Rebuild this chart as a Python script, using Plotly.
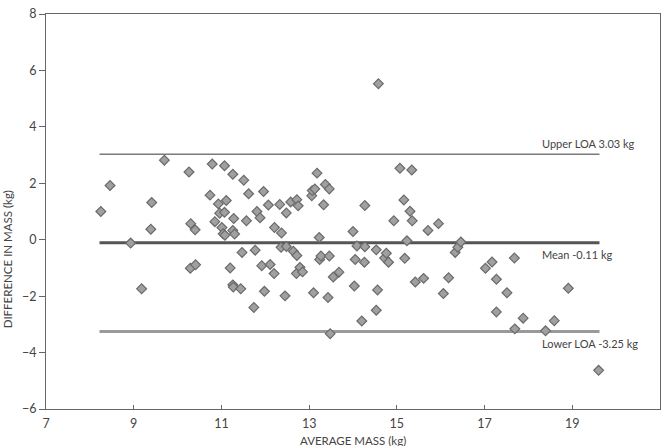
import plotly.graph_objects as go

# Data (Bland-Altman plot)
avg_mass = [8.25, 8.46, 8.93, 9.18, 9.39, 9.41, 9.70, 10.26, 10.29, 10.30,
            10.40, 10.41, 10.74, 10.79, 10.85, 10.93, 10.96, 11.01, 11.04, 11.07,
            11.07, 11.08, 11.11, 11.20, 11.26, 11.26, 11.26, 11.27, 11.28, 11.30,
            11.44, 11.47, 11.51, 11.57, 11.62, 11.74, 11.77, 11.81, 11.88, 11.92,
            11.96, 11.98, 12.07, 12.11, 12.20, 12.21, 12.33, 12.36, 12.37, 12.45,
            12.48, 12.48, 12.58, 12.64, 12.71, 12.72, 12.72, 12.75, 12.79, 12.85,
            13.06, 13.07, 13.10, 13.13, 13.18, 13.23, 13.24, 13.27, 13.33, 13.37,
            13.43, 13.46, 13.46, 13.48, 13.55, 13.68, 14.00, 14.03, 14.05, 14.09,
            14.20, 14.26, 14.27, 14.27, 14.53, 14.53, 14.56, 14.58, 14.72, 14.76,
            14.81, 14.93, 15.07, 15.16, 15.18, 15.23, 15.30, 15.34, 15.35, 15.42,
            15.61, 15.71, 15.95, 16.06, 16.18, 16.33, 16.39, 16.46, 17.02, 17.17,
            17.27, 17.27, 17.51, 17.68, 17.69, 17.88, 18.39, 18.59, 18.91, 19.60]
diff_mass = [1.00, 1.92, -0.12, -1.74, 0.37, 1.32, 2.82, 2.40, -1.01, 0.57,
             0.35, -0.89, 1.58, 2.68, 0.64, 1.27, 0.94, 0.43, 0.21, 0.97,
             2.62, 0.16, 1.39, -1.00, 2.32, 0.33, -1.60, -1.68, 0.75, 0.20,
             -1.74, -0.45, 2.11, 0.67, 1.63, -2.40, -0.37, 1.00, 0.78, -0.92,
             1.71, -1.83, 1.23, -0.88, -1.20, 0.43, 1.25, -0.27, 0.24, -1.99,
             0.95, -0.24, 1.34, -0.41, -1.20, 1.42, -0.56, 1.20, -0.98, -1.14,
             1.56, 1.74, -1.88, 1.80, 2.36, 0.08, -0.70, -0.58, 1.24, 1.96,
             -2.05, 1.80, -0.58, -3.33, -1.32, -1.15, 0.29, -1.64, -0.70, -0.22,
             -2.88, -0.80, 1.21, -0.25, -0.36, -2.50, -1.78, 5.53, -0.65, -0.48,
             -0.80, 0.67, 2.53, 1.41, -0.66, -0.04, 1.01, 2.47, 0.67, -1.50,
             -1.37, 0.33, 0.57, -1.91, -1.35, -0.45, -0.27, -0.08, -1.01, -0.79,
             -1.40, -2.56, -1.88, -0.65, -3.16, -2.78, -3.23, -2.87, -1.72, -4.63]

line_x = [8.22, 19.62]
upper_loa = 3.03
mean_diff = -0.11
lower_loa = -3.25
line_labels = ["Upper LOA 3.03 kg", "Mean -0.11 kg", "Lower LOA -3.25 kg"]
label_y = [3.42, -0.52, -3.69]
label_x = 18.27

x_ticks = [7, 9, 11, 13, 15, 17, 19, 21]
y_ticks = [-6, -4, -2, 0, 2, 4, 6, 8]

fig = go.Figure()

fig.add_trace(go.Scatter(x=line_x, y=[upper_loa, upper_loa], mode="lines",
                         line=dict(color="#7a7a7a", width=1.5), hoverinfo="skip"))
fig.add_trace(go.Scatter(x=line_x, y=[lower_loa, lower_loa], mode="lines",
                         line=dict(color="#9a9a9a", width=3), hoverinfo="skip"))
fig.add_trace(go.Scatter(x=line_x, y=[mean_diff, mean_diff], mode="lines",
                         line=dict(color="#555555", width=3), hoverinfo="skip"))

fig.add_trace(go.Scatter(
    x=avg_mass, y=diff_mass, mode="markers",
    marker=dict(symbol="diamond", size=7.5, color="#a0a0a0",
                line=dict(color="#6a6a6a", width=1.2)),
))

for txt, yy in zip(line_labels, label_y):
    fig.add_annotation(x=label_x, y=yy, text=txt, showarrow=False,
                       xanchor="left", yanchor="middle",
                       font=dict(family="Lato", size=11, color="#444"))

fig.add_annotation(xref="paper", yref="paper", x=-0.0634, y=0.379,
                   text="DIFFERENCE IN MASS (kg)", textangle=-90, showarrow=False,
                   xanchor="center", yanchor="middle",
                   font=dict(family="Lato", size=11.5, color="#444"))
fig.add_annotation(xref="paper", yref="paper", x=0.5, y=-0.08,
                   text="AVERAGE MASS (kg)", showarrow=False,
                   xanchor="center", yanchor="middle",
                   font=dict(family="Lato", size=11.5, color="#444"))

fig.update_layout(
    width=667, height=446,
    margin=dict(l=46, r=6, t=11, b=37),
    plot_bgcolor="white", paper_bgcolor="white",
    showlegend=False,
    font=dict(family="Lato", size=12, color="#444"),
)
fig.update_xaxes(range=[7, 21], tickvals=x_ticks, showgrid=False, zeroline=False,
                 showline=True, linecolor="#666", linewidth=1, mirror=True,
                 ticks="inside", ticklen=4, tickcolor="#666",
                 tickfont=dict(size=12.5), ticklabelstandoff=3)
fig.update_yaxes(range=[-6, 8], tickvals=y_ticks, showgrid=False, zeroline=False,
                 showline=True, linecolor="#666", linewidth=1, mirror=True,
                 ticks="outside", ticklen=6, tickcolor="#666",
                 tickfont=dict(size=12.5))

fig.write_html("out.html")
